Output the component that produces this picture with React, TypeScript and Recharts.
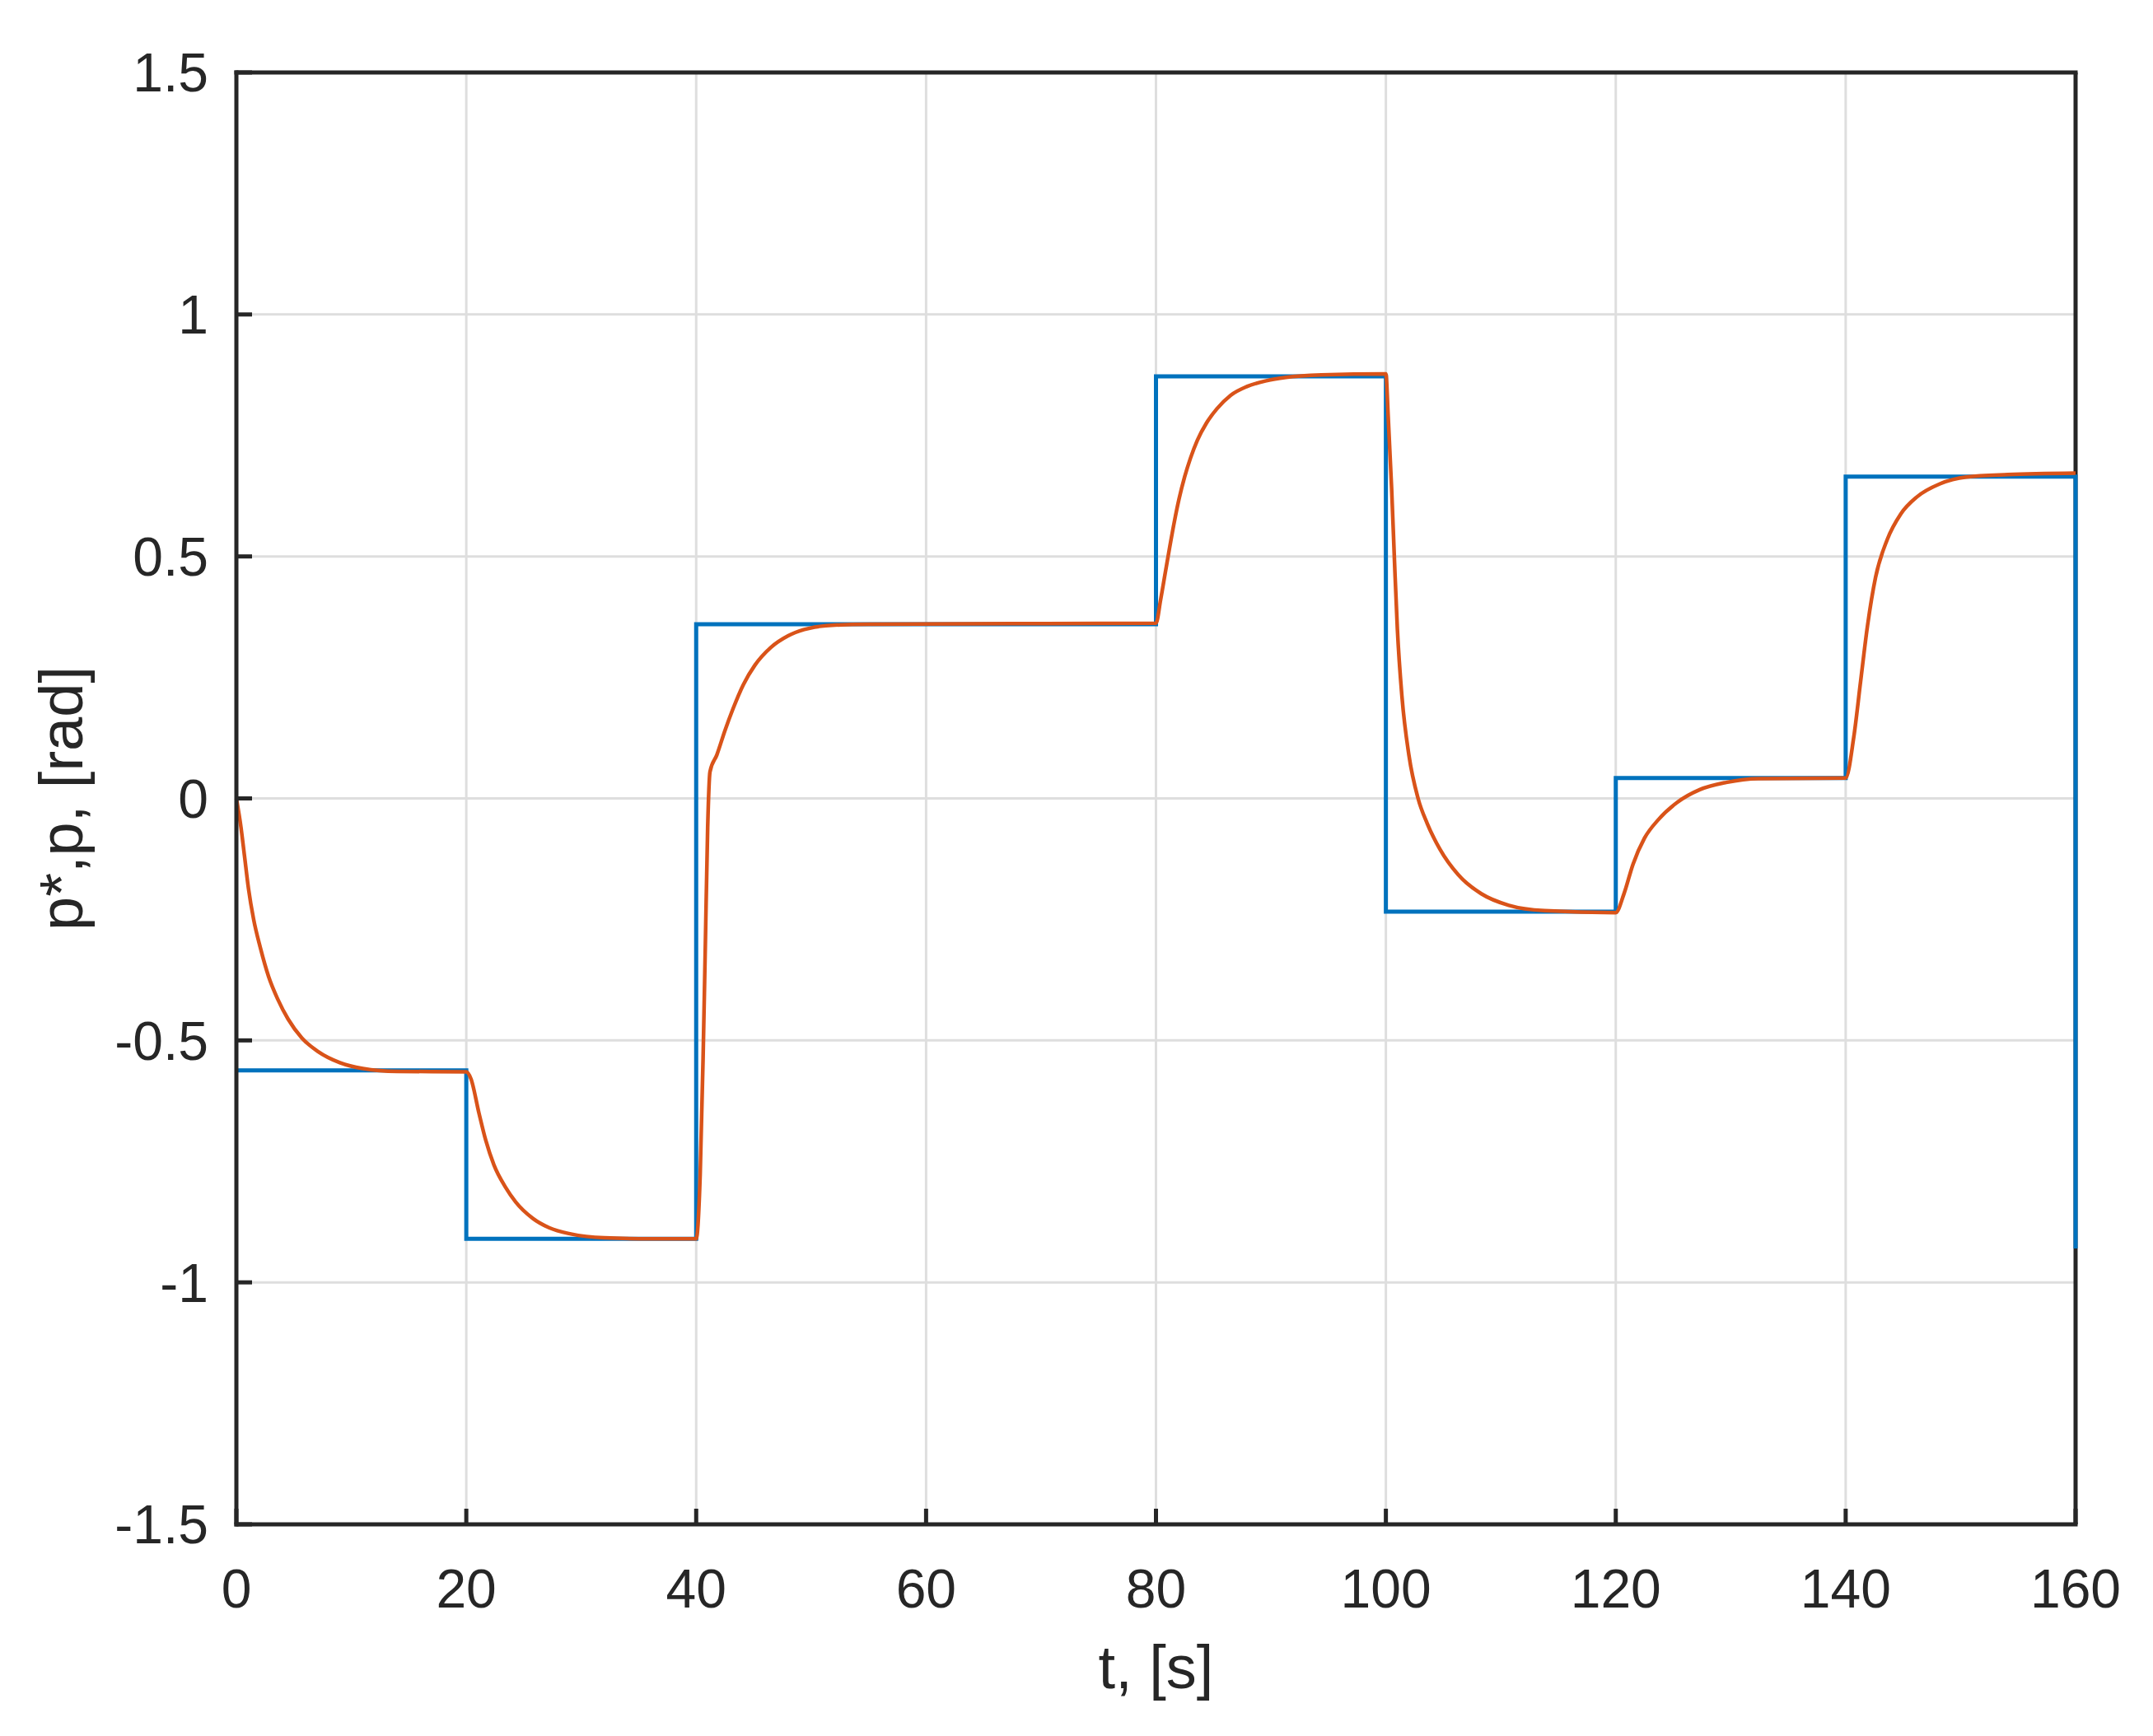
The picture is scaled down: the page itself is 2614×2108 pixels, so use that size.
import { LineChart, Line, XAxis, YAxis, CartesianGrid } from "recharts";

// axis ticks
const timeTicks = [0, 20, 40, 60, 80, 100, 120, 140, 160];
const angleTicks = [-1.5, -1, -0.5, 0, 0.5, 1, 1.5];

// reference p* (step signal)
const refTimes = [0, 20, 40, 80, 100, 120, 140, 160];
const refValues = [-0.562, -0.91, 0.36, 0.872, -0.234, 0.042, 0.665, -0.93];

// response p
const outTimes = [
  0, 0.4, 0.7, 1.05, 1.5, 2.1, 2.8, 3.6, 4.5, 5.7, 7.1, 9, 11, 14, 20,
  20.4, 21.1, 21.7, 22.4, 23.4, 24.3, 25.8, 27.2, 29.1, 32, 36, 40,
  40.35, 40.6, 40.8, 41.0, 41.2, 41.8, 42.5, 43.2, 44.1, 45.1, 46.5, 48, 49.4, 51.3, 55, 80,
  80.4, 80.8, 81.2, 81.6, 82, 82.5, 83, 83.6, 84.4, 85.3, 86.5, 87.9, 89.6, 91.3, 94.4, 100,
  100.2, 100.5, 100.75, 101, 101.4, 102, 102.8, 103.6, 104.7, 106.3, 108.3, 110.7, 113.8, 120,
  120.7, 121.5, 122.5, 123.7, 125.3, 127.3, 129.6, 132.4, 140,
  140.7, 141.3, 141.9, 142.6, 143.6, 144.8, 146.2, 148.2, 150.5, 154.1, 160,
];
const outValues = [
  0, -0.06, -0.118, -0.186, -0.25, -0.31, -0.368, -0.415, -0.456, -0.495, -0.523, -0.546, -0.558, -0.564, -0.565,
  -0.579, -0.65, -0.707, -0.757, -0.803, -0.834, -0.868, -0.887, -0.9, -0.908, -0.91, -0.91,
  -0.776, -0.537, -0.299, -0.06, 0.055, 0.09, 0.14, 0.185, 0.235, 0.275, 0.312, 0.336, 0.349, 0.357, 0.36, 0.362,
  0.41, 0.465, 0.52, 0.572, 0.618, 0.665, 0.703, 0.74, 0.776, 0.805, 0.833, 0.851, 0.863, 0.87, 0.875, 0.877,
  0.79, 0.64, 0.49, 0.35, 0.21, 0.09, 0, -0.052, -0.105, -0.158, -0.197, -0.221, -0.232, -0.236,
  -0.198, -0.136, -0.082, -0.044, -0.009, 0.018, 0.033, 0.041, 0.042,
  0.126, 0.242, 0.357, 0.457, 0.534, 0.588, 0.623, 0.65, 0.664, 0.669, 0.672,
];

const refData = refTimes.map((t, i) => ({ t, v: refValues[i] }));
const outData = outTimes.map((t, i) => ({ t, v: outValues[i] }));

const W = 2614;
const H = 2108;
const PLOT = { left: 287, top: 88, right: 2520, bottom: 1851 };
const font = "'Liberation Sans', Arial, Helvetica, sans-serif";
const ink = "#262626";

const axisLine = { stroke: ink, strokeWidth: 5, strokeLinecap: "square" as const };
const tickLine = { stroke: ink, strokeWidth: 5 };
const tickStyle = { fill: ink, fontSize: 66, fontFamily: font };

const XTitle = () => (
  <text
    x={(PLOT.left + PLOT.right) / 2}
    y={2050}
    textAnchor="middle"
    fontSize={74}
    fontFamily={font}
    fill={ink}
  >
    t, [s]
  </text>
);

const YTitle = () => (
  <text
    x={0}
    y={0}
    transform={`translate(100, ${(PLOT.top + PLOT.bottom) / 2}) rotate(-90)`}
    textAnchor="middle"
    fontSize={74}
    fontFamily={font}
    fill={ink}
  >
    p*,p, [rad]
  </text>
);

export default function App() {
  return (
    <div
      style={{
        position: "absolute",
        left: 0,
        top: 0,
        width: W,
        height: H,
        background: "#fff",
      }}
    >
      <LineChart
        width={W}
        height={H}
        margin={{ top: PLOT.top - 1, right: W - PLOT.right - 1, bottom: 0, left: 0 }}
      >
        <CartesianGrid stroke="#dedede" strokeWidth={3} />
        {/* right edge of the box, kept under the lines like in the original */}
        <CartesianGrid
          horizontal={false}
          verticalPoints={[PLOT.right]}
          stroke={ink}
          strokeWidth={5}
        />

        <XAxis
          dataKey="t"
          type="number"
          domain={[0, 160]}
          ticks={timeTicks}
          interval={0}
          height={H - PLOT.bottom}
          axisLine={axisLine}
          tickLine={tickLine}
          tickSize={-19}
          tickMargin={73}
          tick={tickStyle}
          label={XTitle}
        />
        <XAxis
          xAxisId="top"
          orientation="top"
          dataKey="t"
          type="number"
          domain={[0, 160]}
          ticks={timeTicks}
          interval={0}
          height={1}
          axisLine={axisLine}
          tickLine={tickLine}
          tickSize={-19}
          tickFormatter={() => ""}
        />
        <YAxis
          type="number"
          domain={[-1.5, 1.5]}
          ticks={angleTicks}
          interval={0}
          width={PLOT.left}
          axisLine={axisLine}
          tickLine={tickLine}
          tickSize={-19}
          tickMargin={53}
          tick={tickStyle}
          label={YTitle}
        />
        <YAxis
          yAxisId="right"
          orientation="right"
          type="number"
          domain={[-1.5, 1.5]}
          ticks={angleTicks}
          interval={0}
          width={1}
          axisLine={false}
          tickLine={tickLine}
          tickSize={-19}
          tickFormatter={() => ""}
        />

        <Line
          data={refData}
          dataKey="v"
          type="stepAfter"
          stroke="#0072BD"
          strokeWidth={5}
          dot={false}
          isAnimationActive={false}
        />
        <Line
          data={outData}
          dataKey="v"
          type="monotone"
          stroke="#D95319"
          strokeWidth={4.5}
          dot={false}
          isAnimationActive={false}
        />
      </LineChart>
    </div>
  );
}
